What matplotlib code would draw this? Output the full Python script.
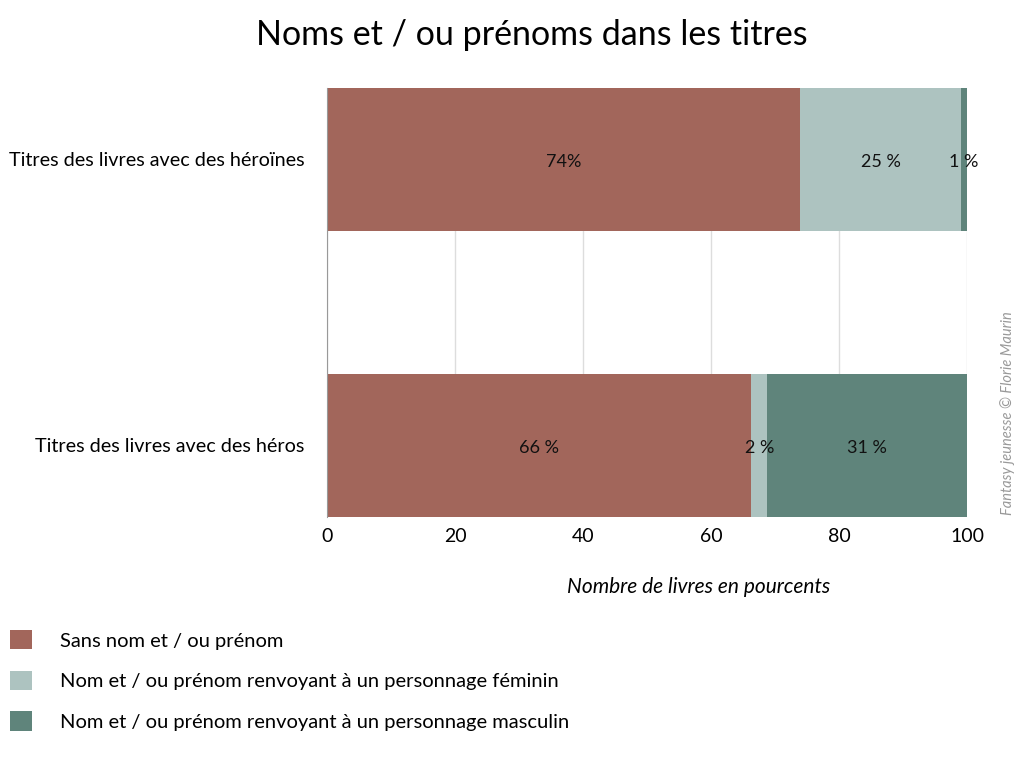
import matplotlib
matplotlib.use("Agg")
import matplotlib.pyplot as plt
import numpy as np

plt.rcParams['font.family'] = ['Lato', 'DejaVu Sans']

# données
categories = ['Titres des livres avec des héros', 'Titres des livres avec des héroïnes']
sans_nom = [66.3, 73.9]
feminin = [2.5, 25.2]
masculin = [31.2, 0.9]
etiquettes = [['66 %', '2 %', '31 %'], ['74%', '25 %', '1 %']]
series_labels = ['Sans nom et / ou prénom',
                 'Nom et / ou prénom renvoyant à un personnage féminin',
                 'Nom et / ou prénom renvoyant à un personnage masculin']
colors = ['#A2665B', '#ADC3C0', '#5F847B']

fig = plt.figure(figsize=(10.24, 7.68), dpi=100)
ax = fig.add_axes([327/1024, 1 - 517/768, 640/1024, 429/768])

y = np.arange(len(categories))
series = [np.array(sans_nom), np.array(feminin), np.array(masculin)]
left = np.zeros(len(categories))
bars = []
for i, s in enumerate(series):
    b = ax.barh(y, s, left=left, height=0.5, color=colors[i], label=series_labels[i], zorder=2)
    bars.append(b)
    for j in range(len(categories)):
        ax.text(left[j] + s[j] / 2, y[j] - 0.01, etiquettes[j][i], ha='center', va='center',
                fontsize=13, color='#111111', zorder=3)
    left = left + s

ax.set_xlim(0, 100)
ax.set_ylim(-0.25, 1.25)
ax.set_xticks([0, 20, 40, 60, 80, 100])
ax.set_yticks(y)
ax.set_yticklabels(categories, fontsize=14.2)
ax.tick_params(axis='x', labelsize=14, length=0, pad=8)
ax.tick_params(axis='y', length=0, pad=16)
ax.grid(axis='x', color='#dddddd', lw=1, zorder=0)
for sp in ['top', 'right', 'bottom']:
    ax.spines[sp].set_visible(False)
ax.spines['left'].set_color('#999999')
ax.spines['left'].set_linewidth(0.8)

ax.set_xlabel('Nombre de livres en pourcents', fontsize=15, style='italic')
ax.xaxis.set_label_coords(0.58, -0.14)

fig.text(532/1024, 1 - 35/768, 'Noms et / ou prénoms dans les titres', ha='center', va='center', fontsize=24.5)

fig.text(1008/1024, 1 - 413/768, 'Fantasy jeunesse © Florie Maurin', rotation=90, ha='center', va='center',
         fontsize=10.5, style='italic', color='#999999')

fig.legend(handles=bars, labels=series_labels, loc='upper left', bbox_to_anchor=(10/1024, 1 - 630/768),
           frameon=False, fontsize=14.5, handlelength=1.1, handleheight=1.1, handletextpad=1.4,
           labelspacing=1.05, borderpad=0, borderaxespad=0)

fig.savefig('out.png', dpi=100)
